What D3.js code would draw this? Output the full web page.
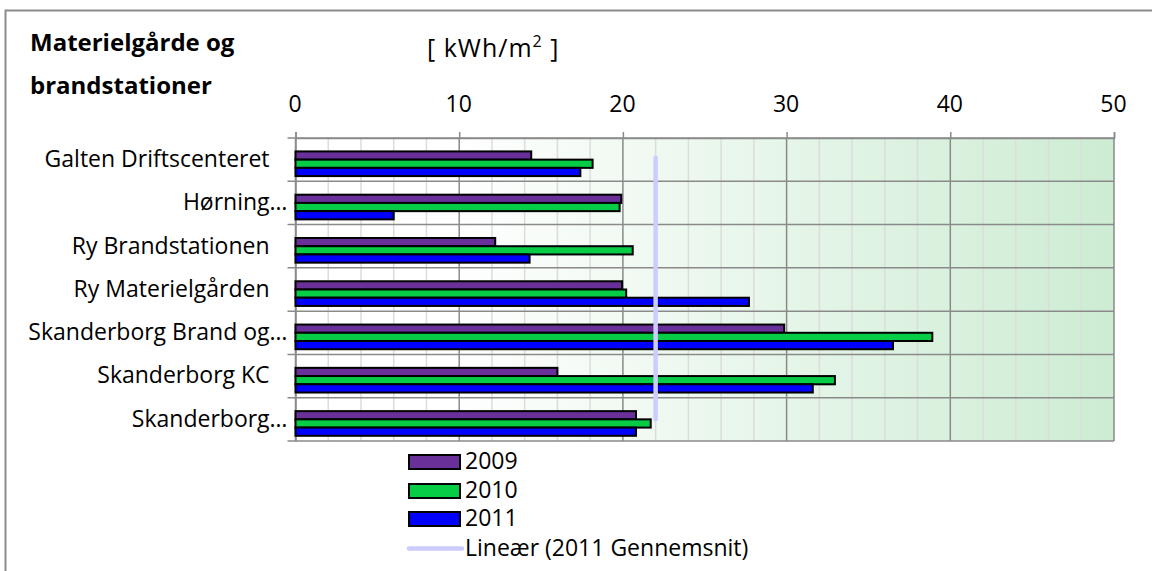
<!DOCTYPE html>
<html>
<head>
<meta charset="utf-8">
<script src="https://cdn.jsdelivr.net/npm/d3@7"></script>
<style>
  html, body { margin: 0; padding: 0; background: #fff; }
  svg { display: block; font-family: "Open Sans", sans-serif; }
</style>
</head>
<body>
<svg id="chart" width="1152" height="571"></svg>
<script>
const categories = [
  "Galten Driftscenteret\u00a0\u00a0\u00a0",
  "Hørning…",
  "Ry Brandstationen\u00a0\u00a0\u00a0",
  "Ry Materielgården\u00a0\u00a0\u00a0",
  "Skanderborg Brand og…",
  "Skanderborg KC\u00a0\u00a0\u00a0",
  "Skanderborg…"
];
const seriesNames = ["2009", "2010", "2011"];
const values2009 = [14.4, 19.9, 12.2, 19.95, 29.85, 16.0, 20.8];
const values2010 = [18.15, 19.8, 20.6, 20.2, 38.9, 32.95, 21.7];
const values2011 = [17.4, 6.0, 14.3, 27.7, 36.5, 31.6, 20.8];
const averageName = "Lineær (2011 Gennemsnit)";
const averageValue = 22.0;
const xTicks = [0, 10, 20, 30, 40, 50];
const xMinorTicks = [2, 4, 6, 8, 12, 14, 16, 18, 22, 24, 26, 28, 32, 34, 36, 38, 42, 44, 46, 48];
const colors = ["#6a309a", "#06cc46", "#0000ff"];

const seriesValues = [values2009, values2010, values2011];

const FONT = "'Open Sans', sans-serif";
const FS = 23;

const svg = d3.select("#chart");

// outer chart border (extends beyond the picture at right and bottom)
svg.append("rect")
  .attr("x", 5.5).attr("y", 10.5)
  .attr("width", 1200).attr("height", 600)
  .attr("fill", "#fff").attr("stroke", "#8c8c8c").attr("stroke-width", 2);

const pLeft = 295.5, pRight = 1114, pTop = 138, pBottom = 441;

const x = d3.scaleLinear().domain([0, 50]).range([pLeft, pRight]);
const y = d3.scaleBand().domain(categories).range([pTop, pBottom]).paddingInner(0).paddingOuter(0);
const ySub = d3.scaleBand().domain(seriesNames)
  .range([y.bandwidth() * 0.31, y.bandwidth() * 0.88]).padding(0);

// gradient background
const defs = svg.append("defs");
const grad = defs.append("linearGradient").attr("id", "bg")
  .attr("x1", "0%").attr("x2", "100%").attr("y1", "0%").attr("y2", "0%");
grad.append("stop").attr("offset", "0%").attr("stop-color", "#ffffff");
grad.append("stop").attr("offset", "18%").attr("stop-color", "#ffffff");
grad.append("stop").attr("offset", "100%").attr("stop-color", "#cdecd3");

svg.append("rect")
  .attr("x", pLeft).attr("y", pTop)
  .attr("width", pRight - pLeft).attr("height", pBottom - pTop)
  .attr("fill", "url(#bg)");

// minor vertical grid
svg.append("g").selectAll("line").data(xMinorTicks).join("line")
  .attr("x1", d => x(d)).attr("x2", d => x(d))
  .attr("y1", pTop).attr("y2", pBottom)
  .attr("stroke", "#dcdcdc").attr("stroke-width", 1.5);

// major vertical grid
svg.append("g").selectAll("line").data(xTicks).join("line")
  .attr("x1", d => x(d)).attr("x2", d => x(d))
  .attr("y1", pTop).attr("y2", pBottom)
  .attr("stroke", "#8a8a8a").attr("stroke-width", 1.5);

// horizontal grid at category boundaries (extending as ticks to the left)
const boundaries = categories.map(c => y(c)).concat([pBottom]);
svg.append("g").selectAll("line").data(boundaries).join("line")
  .attr("x1", pLeft - 8).attr("x2", pRight)
  .attr("y1", d => d).attr("y2", d => d)
  .attr("stroke", "#8a8a8a").attr("stroke-width", 1.5);

// top x axis
const xAxis = d3.axisTop(x).tickValues(xTicks).tickSize(6).tickPadding(20).tickFormat(d3.format("d"));
const gx = svg.append("g").attr("transform", `translate(0,${pTop})`).call(xAxis);
gx.select(".domain").attr("stroke", "#8a8a8a").attr("stroke-width", 1.5);
gx.selectAll(".tick line").attr("stroke", "#8a8a8a").attr("stroke-width", 1.5);
gx.selectAll(".tick text").attr("font-size", FS).attr("fill", "#000")
  .attr("font-family", FONT).attr("dx", -1);

// left y axis
const yAxis = d3.axisLeft(y).tickSize(0).tickPadding(8);
const gy = svg.append("g").attr("transform", `translate(${pLeft},0)`).call(yAxis);
gy.select(".domain").attr("stroke", "#8a8a8a").attr("stroke-width", 1.5);
gy.selectAll(".tick text").attr("font-size", FS).attr("fill", "#000")
  .attr("font-family", FONT).style("white-space", "pre");

// bars
seriesNames.forEach((s, si) => {
  svg.append("g").selectAll("rect").data(categories).join("rect")
    .attr("x", x(0))
    .attr("y", (c) => y(c) + ySub(s))
    .attr("width", (c, i) => x(seriesValues[si][i]) - x(0))
    .attr("height", ySub.bandwidth())
    .attr("fill", colors[si])
    .attr("stroke", "#000").attr("stroke-width", 2);
});

// average line
const firstC = categories[0], lastC = categories[categories.length - 1];
svg.append("line")
  .attr("x1", x(averageValue)).attr("x2", x(averageValue))
  .attr("y1", y(firstC) + y.bandwidth() / 2 - 2)
  .attr("y2", y(lastC) + y.bandwidth() / 2)
  .attr("stroke", "#ccccff").attr("stroke-width", 4.5).attr("stroke-linecap", "round");

// title
svg.append("text").attr("x", 30).attr("y", 51)
  .attr("font-size", 24).attr("font-weight", "bold").attr("fill", "#000")
  .text("Materielgårde og");
svg.append("text").attr("x", 30).attr("y", 94)
  .attr("font-size", 24).attr("font-weight", "bold").attr("fill", "#000")
  .text("brandstationer");

// unit label
const unit = svg.append("text").attr("x", 427).attr("y", 57)
  .attr("font-size", 25).attr("fill", "#000").attr("letter-spacing", 1)
  .style("white-space", "pre");
unit.append("tspan").text("[ kWh/m");
unit.append("tspan").attr("font-size", 16).attr("dy", -10).text("2");
unit.append("tspan").attr("dy", 10).text(" ]");

// legend
const legX = 408, legY = [454, 483, 511];
const lg = svg.append("g");
seriesNames.forEach((s, i) => {
  lg.append("rect").attr("x", legX + 1).attr("y", legY[i] + 1)
    .attr("width", 51).attr("height", 14)
    .attr("fill", colors[i]).attr("stroke", "#000").attr("stroke-width", 2);
  lg.append("text").attr("x", legX + 57).attr("y", legY[i] + 15)
    .attr("font-size", FS).attr("fill", "#000").text(s);
});
lg.append("line").attr("x1", legX + 1).attr("x2", legX + 54)
  .attr("y1", 548.5).attr("y2", 548.5)
  .attr("stroke", "#ccccff").attr("stroke-width", 4.5).attr("stroke-linecap", "round");
lg.append("text").attr("x", legX + 57).attr("y", 556)
  .attr("font-size", FS).attr("fill", "#000").text(averageName);
</script>
</body>
</html>
